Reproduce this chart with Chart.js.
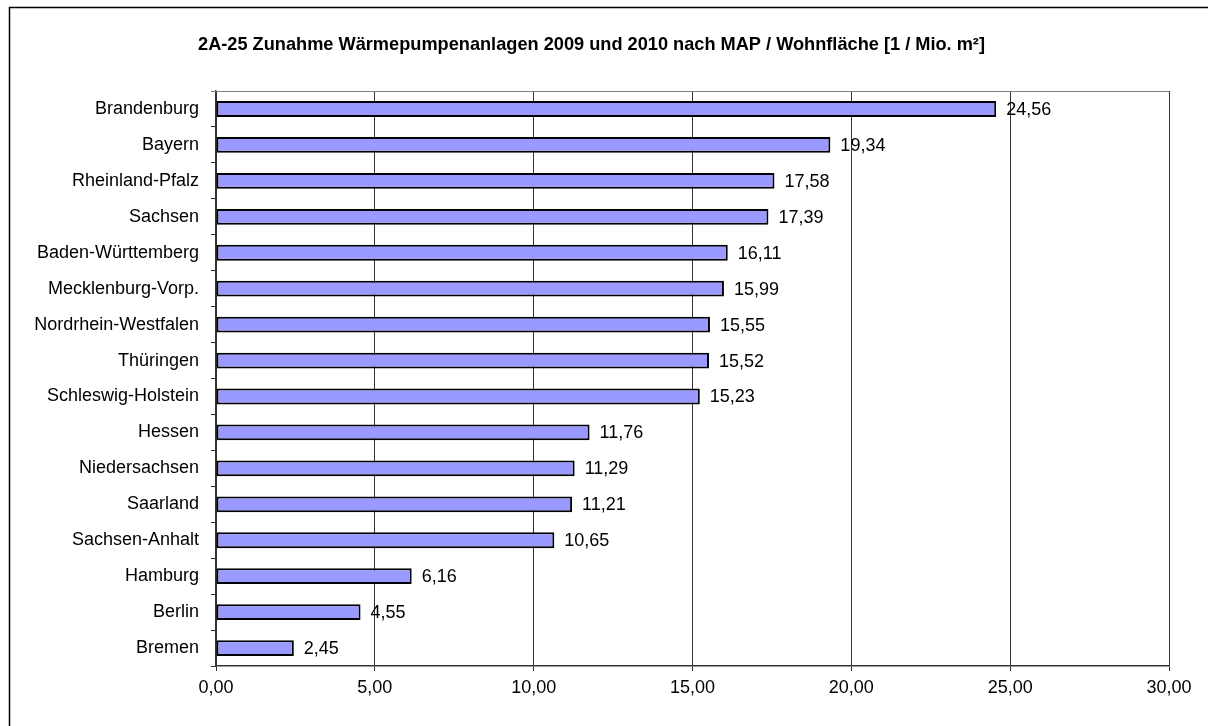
<!DOCTYPE html>
<html>
<head>
<meta charset="utf-8">
<script src="https://cdn.jsdelivr.net/npm/chart.js@4"></script>
<style>
    html, body { margin: 0; padding: 0; background: #fff; }
    #wrap { position: relative; width: 1208px; height: 726px; }
</style>
</head>
<body>
<div id="wrap"><canvas id="chart" width="1208" height="726"></canvas></div>
<script>
    // Bundesländer, sortiert nach Zunahme
    const laender = [
        'Brandenburg', 'Bayern', 'Rheinland-Pfalz', 'Sachsen', 'Baden-Württemberg',
        'Mecklenburg-Vorp.', 'Nordrhein-Westfalen', 'Thüringen', 'Schleswig-Holstein',
        'Hessen', 'Niedersachsen', 'Saarland', 'Sachsen-Anhalt', 'Hamburg', 'Berlin', 'Bremen'
    ];
    const zunahme = [24.56, 19.34, 17.58, 17.39, 16.11, 15.99, 15.55, 15.52, 15.23,
                     11.76, 11.29, 11.21, 10.65, 6.16, 4.55, 2.45];
    const xTicks = [0, 5, 10, 15, 20, 25, 30];

    const fmt = v => v.toFixed(2).replace('.', ',');
    const FONT = 'Arial, "Liberation Sans", sans-serif';

    // Rahmen um das Diagramm und obere Kante der Zeichenfläche
    const framePlugin = {
        id: 'frame',
        beforeDraw(chart) {
            const ctx = chart.ctx;
            ctx.save();
            ctx.strokeStyle = '#000';
            ctx.lineWidth = 1.5;
            ctx.beginPath();
            ctx.moveTo(9.5, chart.height);
            ctx.lineTo(9.5, 7.5);
            ctx.lineTo(chart.width, 7.5);
            ctx.stroke();
            ctx.restore();
        },
        afterDraw(chart) {
            const a = chart.chartArea;
            const ctx = chart.ctx;
            ctx.save();
            ctx.strokeStyle = '#808080';
            ctx.lineWidth = 1;
            ctx.beginPath();
            ctx.moveTo(a.left - 5, Math.round(a.top) + 0.5);
            ctx.lineTo(a.right, Math.round(a.top) + 0.5);
            ctx.stroke();
            ctx.restore();
        }
    };

    // Wertebeschriftung rechts neben den Balken
    const valueLabels = {
        id: 'valueLabels',
        afterDatasetsDraw(chart) {
            const ctx = chart.ctx;
            const meta = chart.getDatasetMeta(0);
            ctx.save();
            ctx.fillStyle = '#000';
            ctx.font = '18px ' + FONT;
            ctx.textAlign = 'left';
            ctx.textBaseline = 'middle';
            meta.data.forEach((bar, i) => {
                ctx.fillText(fmt(zunahme[i]), bar.x + 10, bar.y + 1);
            });
            ctx.restore();
        }
    };

    new Chart(document.getElementById('chart').getContext('2d'), {
        type: 'bar',
        data: {
            labels: laender,
            datasets: [{
                data: zunahme,
                backgroundColor: '#9999FF',
                borderColor: '#000',
                borderWidth: 2,
                borderSkipped: false,
                barPercentage: 0.44,
                categoryPercentage: 1
            }]
        },
        options: {
            indexAxis: 'y',
            responsive: false,
            animation: false,
            layout: { padding: { left: 14, right: 39, top: 0, bottom: 0 } },
            plugins: {
                legend: { display: false },
                tooltip: { enabled: false },
                title: {
                    display: true,
                    text: '2A-25 Zunahme Wärmepumpenanlagen 2009 und 2010 nach MAP / Wohnfläche [1 / Mio. m²]',
                    color: '#000',
                    font: { family: FONT, size: 18.2, weight: 'bold', lineHeight: 1.2 },
                    padding: { top: 34, bottom: 35.2 }
                }
            },
            scales: {
                x: {
                    min: 0,
                    max: 30,
                    afterBuildTicks(scale) {
                        scale.ticks = xTicks.map(v => ({ value: v }));
                    },
                    afterFit(scale) { scale.height = 60; },
                    grid: { color: '#333', lineWidth: 1, drawTicks: true, tickLength: 5 },
                    border: { color: '#333', width: 1.5 },
                    ticks: {
                        color: '#000',
                        font: { family: FONT, size: 18 },
                        padding: 6,
                        callback: v => fmt(v)
                    }
                },
                y: {
                    afterFit(scale) { scale.width = 202; },
                    grid: { drawOnChartArea: false, color: '#333', tickLength: 5, offset: true },
                    border: { color: '#333', width: 1.5 },
                    ticks: {
                        color: '#000',
                        font: { family: FONT, size: 18 },
                        padding: 12
                    }
                }
            }
        },
        plugins: [framePlugin, valueLabels]
    });
</script>
</body>
</html>
